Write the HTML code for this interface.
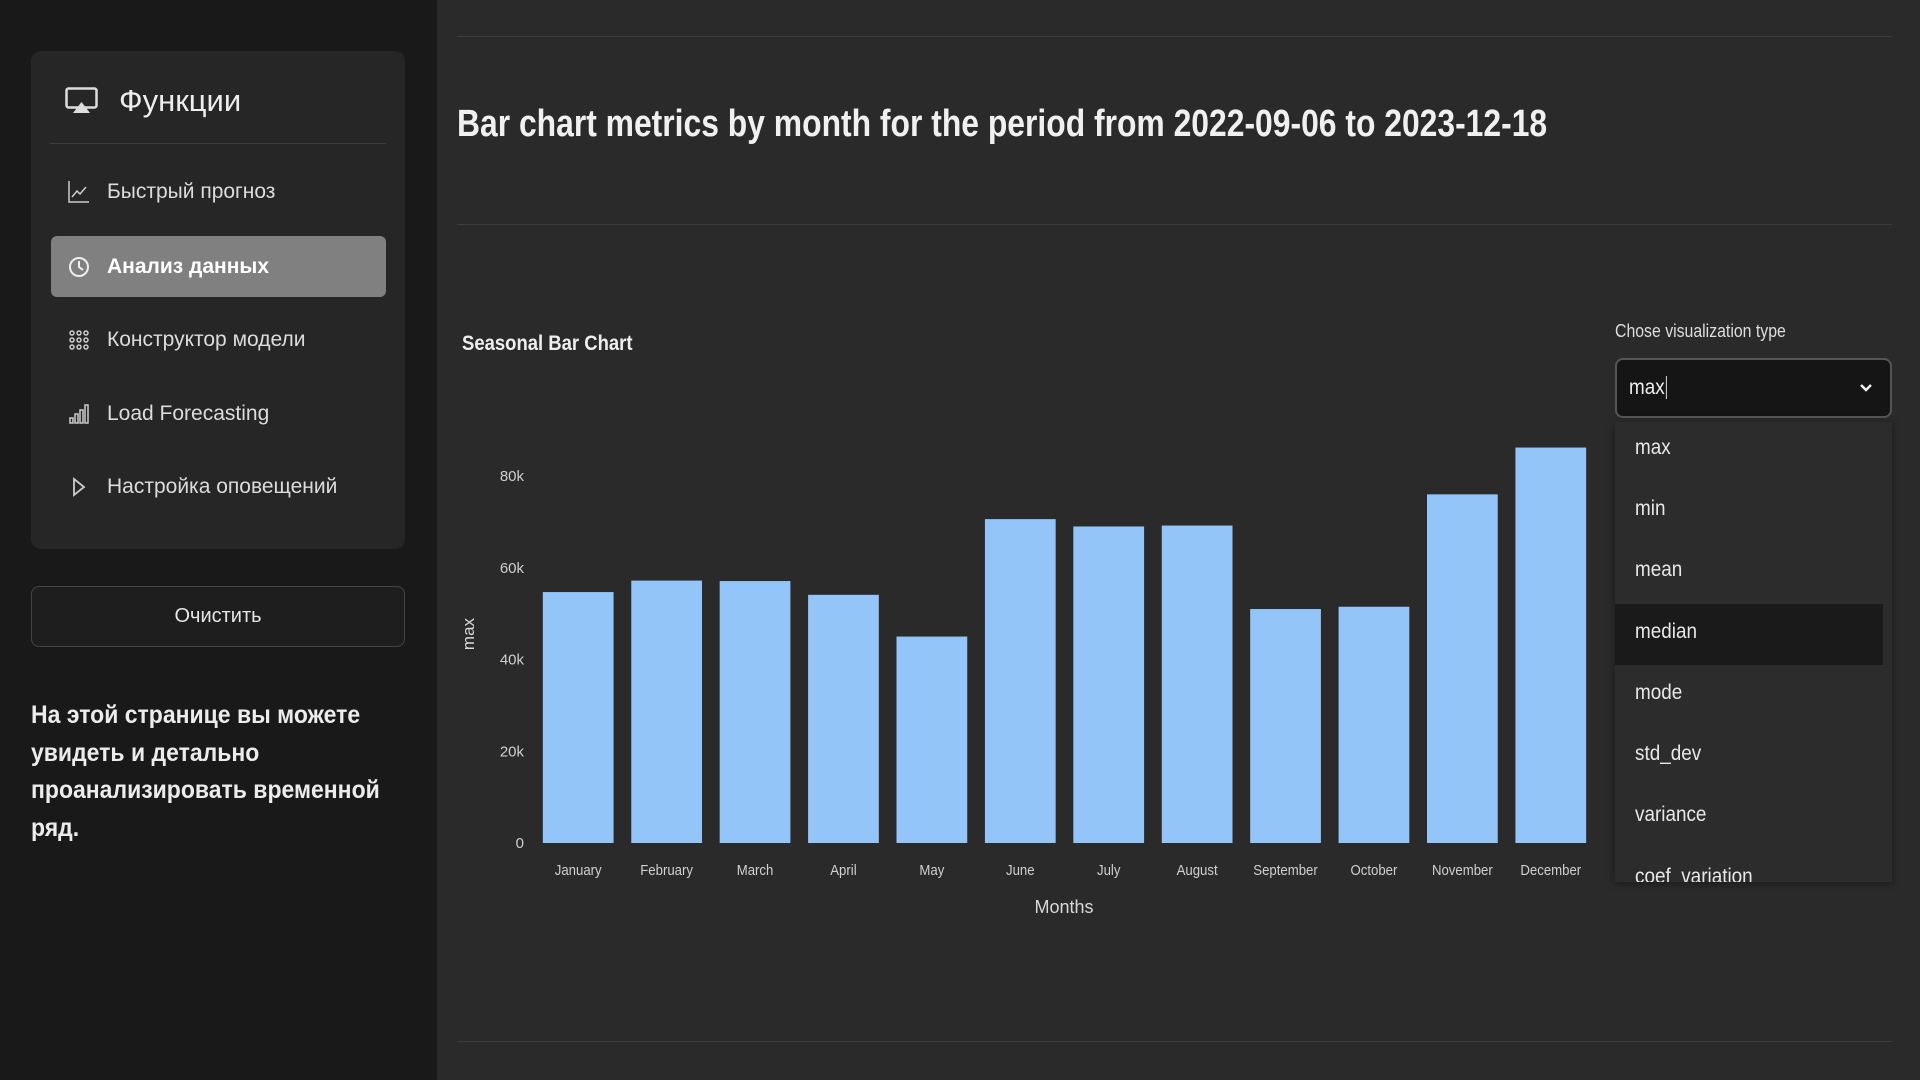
<!DOCTYPE html>
<html><head><meta charset="utf-8">
<style>
*{box-sizing:border-box;margin:0;padding:0}
body{width:1920px;height:1080px;background:#2a2a2a;font-family:"Liberation Sans","Noto Sans CJK SC",sans-serif;position:relative;overflow:hidden;color:#e6e6e6}
.abs{position:absolute}
#sidebar{left:0;top:0;width:437px;height:1080px;background:#191919}
#card{left:31px;top:51px;width:374px;height:498px;background:#262626;border-radius:10px}
.item{position:absolute;left:20px;width:335px;height:61px;display:flex;align-items:center;font-size:21px;color:#dcdcdc;border-radius:6px}
.item .ic{width:56px;display:flex;justify-content:center;color:#cfcfcf}
.hr{height:1px;background:#3d3d3d}
.opt{position:absolute;left:20px;font-size:21px;color:#e8e8e8;transform:scaleX(0.9);transform-origin:left center}
</style></head><body>
<div id="sidebar" class="abs">
  <div id="card" class="abs">
    <div class="abs" style="left:34px;top:36px;width:33px;height:26px">
      <svg width="33" height="27"><rect x="1.5" y="1.5" width="30" height="19" rx="2" fill="none" stroke="#ddd" stroke-width="2.5"/><polygon points="8,26 16.5,15 25,26" fill="#ddd"/></svg>
    </div>
    <div class="abs" style="left:88px;top:32px;font-size:31px;color:#eee">Функции</div>
    <div class="abs hr" style="left:19px;top:92px;width:336px"></div>
    <div class="item" style="top:110px"><span class="ic"><svg width="22" height="22"><path d="M1 0V21H21" fill="none" stroke="#ccc" stroke-width="1.5"/><path d="M4 16L9 10L12 13L18 6" fill="none" stroke="#ccc" stroke-width="1.5"/></svg></span>Быстрый прогноз</div>
    <div class="item" style="top:185px;background:#808080;color:#fff;font-weight:bold"><span class="ic"><svg width="22" height="22"><circle cx="11" cy="11" r="9" fill="none" stroke="#eee" stroke-width="2"/><path d="M11 5V11L15 14" fill="none" stroke="#eee" stroke-width="2"/></svg></span>Анализ данных</div>
    <div class="item" style="top:258px"><span class="ic"><svg width="20" height="20"><g fill="none" stroke="#ccc" stroke-width="1.5"><circle cx="3" cy="3" r="2"/><circle cx="10" cy="3" r="2"/><circle cx="17" cy="3" r="2"/><circle cx="3" cy="10" r="2"/><circle cx="10" cy="10" r="2"/><circle cx="17" cy="10" r="2"/><circle cx="3" cy="17" r="2"/><circle cx="10" cy="17" r="2"/><circle cx="17" cy="17" r="2"/></g></svg></span>Конструктор модели</div>
    <div class="item" style="top:332px"><span class="ic"><svg width="20" height="20"><g fill="none" stroke="#ccc" stroke-width="1.5"><rect x="1" y="14" width="3" height="5"/><rect x="6" y="10" width="3" height="9"/><rect x="11" y="6" width="3" height="13"/><rect x="16" y="1" width="3" height="18"/></g></svg></span>Load Forecasting</div>
    <div class="item" style="top:405px"><span class="ic"><svg width="14" height="20"><path d="M2 2L12 10L2 18Z" fill="none" stroke="#ccc" stroke-width="1.8"/></svg></span>Настройка оповещений</div>
  </div>
  <div class="abs" style="left:31px;top:586px;width:374px;height:61px;border:1px solid #454545;border-radius:8px;background:#1e1e1e;display:flex;align-items:center;justify-content:center;font-size:20px;color:#e6e6e6">Очистить</div>
  <div class="abs" style="left:31px;top:697px;width:380px;font-size:25px;font-weight:bold;line-height:37.5px;color:#ececec;transform:scaleX(0.92);transform-origin:left top">На этой странице вы можете увидеть и детально проанализировать временной ряд.</div>
</div>

<div class="abs hr" style="left:457px;top:36px;width:1435px"></div>
<div class="abs" style="left:457px;top:103px;font-size:38px;font-weight:bold;color:#f0f0f0;white-space:nowrap;transform:scaleX(0.838);transform-origin:left top">Bar chart metrics by month for the period from 2022-09-06 to 2023-12-18</div>
<div class="abs hr" style="left:457px;top:224px;width:1435px"></div>
<div class="abs hr" style="left:457px;top:1041px;width:1435px"></div>

<div class="abs" style="left:462px;top:332px;font-size:21px;font-weight:bold;color:#eee;white-space:nowrap;transform:scaleX(0.88);transform-origin:left top">Seasonal Bar Chart</div>

<div class="abs" style="left:1615px;top:321px;font-size:18px;color:#ddd;white-space:nowrap;transform:scaleX(0.88);transform-origin:left top">Chose visualization type</div>
<div class="abs" style="left:1615px;top:358px;width:277px;height:60px;background:#151515;border:2px solid #555;border-radius:8px">
  <span class="abs" style="left:12px;top:16px;font-size:21px;color:#eee;transform:scaleX(0.9);transform-origin:left top">max<span style="border-left:1.5px solid #eee;margin-left:1px"></span></span>
  <svg class="abs" style="left:241px;top:22px" width="16" height="12"><path d="M3 3L8 8L13 3" fill="none" stroke="#eee" stroke-width="2.5"/></svg>
</div>
<div class="abs" style="left:1615px;top:422px;width:277px;height:460px;background:#2c2c2c;box-shadow:0 2px 8px rgba(0,0,0,0.35);overflow:hidden">
  <div class="abs" style="left:0;top:182px;width:268px;height:61px;background:#1a1a1a"></div>
  <div class="opt" style="top:14px">max</div>
  <div class="opt" style="top:75px">min</div>
  <div class="opt" style="top:136px">mean</div>
  <div class="opt" style="top:198px">median</div>
  <div class="opt" style="top:259px">mode</div>
  <div class="opt" style="top:320px">std_dev</div>
  <div class="opt" style="top:381px">variance</div>
  <div class="opt" style="top:443px">coef_variation</div>
</div>

<svg id="chart" class="abs" style="left:0;top:0" width="1610" height="940"></svg>

<script>
const categories = ["January","February","March","April","May","June","July","August","September","October","November","December"];
const values = [54700, 57200, 57100, 54100, 45000, 70600, 69000, 69200, 51000, 51500, 76000, 86200];
const yTicks = [0, 20000, 40000, 60000, 80000];
const yTickLabels = ["0", "20k", "40k", "60k", "80k"];

const NS = "http://www.w3.org/2000/svg";
const svg = document.getElementById("chart");
const x0 = 534, x1 = 1595, yBase = 843, yMaxPx = 476, yMaxVal = 80000;
const band = (x1 - x0) / categories.length;
const pad = 0.2;
function xScale(i){ return x0 + i * band; }
function yScale(v){ return yBase - v / yMaxVal * (yBase - yMaxPx); }
function mk(tag, attrs){ const e = document.createElementNS(NS, tag); for (const k in attrs) e.setAttribute(k, attrs[k]); return e; }

yTicks.forEach((t, i) => {
  const tx = mk("text", {x: 524, y: yScale(t) + 5, "text-anchor": "end", "font-size": 15, fill: "#cfcfcf", "font-family": "Liberation Sans, sans-serif"});
  
  
  tx.textContent = yTickLabels[i];
  svg.appendChild(tx);
});

categories.forEach((c, i) => {
  const bx = xScale(i) + band * pad / 2, bw = band * (1 - pad);
  const r = mk("rect", {x: bx, y: yScale(values[i]), width: bw, height: yBase - yScale(values[i]), fill: "#93c5f8"});
  
  
  svg.appendChild(r);
  const lbl = mk("text", {x: xScale(i) + band / 2, y: 875, "text-anchor": "middle", "font-size": 15, fill: "#d0d0d0", "font-family": "Liberation Sans, sans-serif", transform: "translate(" + (xScale(i) + band / 2) + ",0) scale(0.88,1) translate(" + (-(xScale(i) + band / 2)) + ",0)"});
  
  
  lbl.textContent = c;
  svg.appendChild(lbl);
});

const xt = mk("text", {x: 1064, y: 913, "text-anchor": "middle", "font-size": 18, fill: "#d8d8d8", "font-family": "Liberation Sans, sans-serif"});


xt.textContent = "Months";
svg.appendChild(xt);

const yt = mk("text", {x: 0, y: 0, "text-anchor": "middle", "font-size": 17, fill: "#d8d8d8", "font-family": "Liberation Sans, sans-serif", transform: "translate(474,634) rotate(-90)"});


yt.textContent = "max";
svg.appendChild(yt);
</script>
</body></html>
